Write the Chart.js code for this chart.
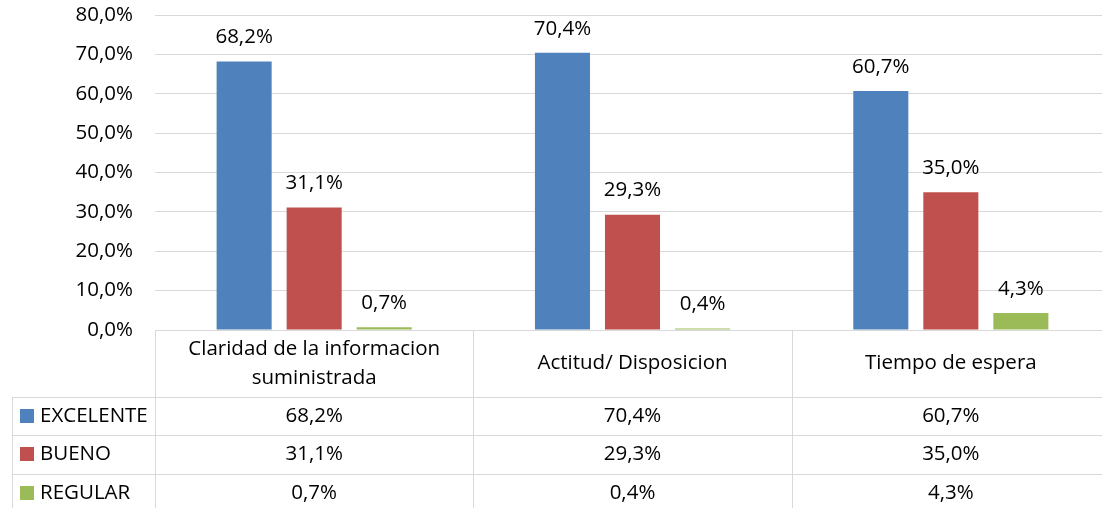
<!DOCTYPE html>
<html>
<head>
<meta charset="utf-8">
<script src="https://cdn.jsdelivr.net/npm/chart.js@4.4.1/dist/chart.umd.min.js"></script>
<style>
  html, body { margin: 0; padding: 0; overflow: hidden; background: #fff; }
  #wrap { width: 1110px; height: 508px; }
</style>
</head>
<body>
<div id="wrap"><canvas id="grafico"></canvas></div>
<script>
const categorias = [['Claridad de la informacion', 'suministrada'], 'Actitud/ Disposicion', 'Tiempo de espera'];
const series = ['EXCELENTE', 'BUENO', 'REGULAR'];
const excelente = [68.2, 70.4, 60.7];
const bueno = [31.1, 29.3, 35.0];
const regular = [0.7, 0.4, 4.3];
const ticksY = [0, 10, 20, 30, 40, 50, 60, 70, 80];
const colores = ['#4f81bd', '#c0504d', '#9bbb59'];

const FUENTE = '"Open Sans", "Noto Sans", sans-serif';
const TEXTO = '#000';
const LINEA = '#d9d9d9';

function pct(v) {
  return v.toFixed(1).replace('.', ',') + '%';
}

// etiquetas encima de cada barra
const etiquetas = {
  id: 'etiquetas',
  afterDatasetsDraw(chart) {
    const ctx = chart.ctx;
    ctx.save();
    ctx.font = '20.5px ' + FUENTE;
    ctx.fillStyle = TEXTO;
    ctx.textAlign = 'center';
    ctx.textBaseline = 'middle';
    chart.data.datasets.forEach((ds, i) => {
      chart.getDatasetMeta(i).data.forEach((bar, j) => {
        ctx.fillText(pct(ds.data[j]), bar.x, bar.y - 24);
      });
    });
    ctx.restore();
  }
};

// tabla de datos debajo del grafico
const tabla = {
  id: 'tabla',
  afterDraw(chart) {
    const ctx = chart.ctx;
    const area = chart.chartArea;
    const n = categorias.length;
    const anchoCol = (area.right - area.left) / n;
    const finCab = area.bottom + 67;
    const altoFila = 38.3;
    const izq = 12;
    const abajo = chart.height;
    const filas = [excelente, bueno, regular];
    const px = v => Math.round(v) + 0.5;

    ctx.save();
    ctx.strokeStyle = LINEA;
    ctx.lineWidth = 1;
    ctx.beginPath();
    ctx.moveTo(area.left, px(area.bottom));
    ctx.lineTo(chart.width, px(area.bottom));
    for (let r = 0; r < filas.length; r++) {
      const y = px(finCab + r * altoFila);
      ctx.moveTo(izq, y);
      ctx.lineTo(chart.width, y);
    }
    ctx.moveTo(px(izq), px(finCab));
    ctx.lineTo(px(izq), abajo);
    for (let c = 0; c <= n; c++) {
      const x = px(area.left + c * anchoCol);
      ctx.moveTo(x, px(area.bottom));
      ctx.lineTo(x, abajo);
    }
    ctx.stroke();

    ctx.font = '20.5px ' + FUENTE;
    ctx.fillStyle = TEXTO;
    ctx.textBaseline = 'middle';
    ctx.textAlign = 'center';
    categorias.forEach((cat, c) => {
      const cx = area.left + (c + 0.5) * anchoCol;
      const lineas = Array.isArray(cat) ? cat : [cat];
      const cy = (area.bottom + finCab) / 2;
      lineas.forEach((t, k) => {
        ctx.fillText(t, cx, cy + (k - (lineas.length - 1) / 2) * 29);
      });
    });

    filas.forEach((fila, r) => {
      const cy = finCab + (r + 0.5) * altoFila;
      ctx.textAlign = 'center';
      ctx.fillStyle = TEXTO;
      fila.forEach((v, c) => {
        ctx.fillText(pct(v), area.left + (c + 0.5) * anchoCol, cy);
      });
      ctx.fillStyle = colores[r];
      ctx.fillRect(20, Math.round(cy - 7), 14, 14);
      ctx.fillStyle = TEXTO;
      ctx.textAlign = 'left';
      ctx.fillText(series[r], 40, cy);
    });
    ctx.restore();
  }
};

new Chart(document.getElementById('grafico'), {
  type: 'bar',
  data: {
    labels: categorias,
    datasets: [
      { label: series[0], data: excelente, backgroundColor: colores[0] },
      { label: series[1], data: bueno, backgroundColor: colores[1] },
      { label: series[2], data: regular, backgroundColor: colores[2] }
    ]
  },
  options: {
    responsive: true,
    maintainAspectRatio: false,
    animation: false,
    categoryPercentage: 0.66,
    barPercentage: 0.786,
    layout: { padding: { top: 15, bottom: 178, left: 0, right: 0 } },
    plugins: { legend: { display: false }, tooltip: { enabled: false } },
    scales: {
      x: { display: false },
      y: {
        min: 0,
        max: 80,
        afterBuildTicks: s => { s.ticks = ticksY.map(v => ({ value: v })); },
        afterFit: s => { s.width = 155; s.paddingTop = 0; s.paddingBottom = 0; },
        border: { display: false },
        grid: { color: LINEA, lineWidth: 1, drawTicks: false },
        ticks: {
          padding: 22,
          color: TEXTO,
          font: { family: FUENTE, size: 20.5 },
          callback: v => pct(v)
        }
      }
    }
  },
  plugins: [etiquetas, tabla]
});
</script>
</body>
</html>
